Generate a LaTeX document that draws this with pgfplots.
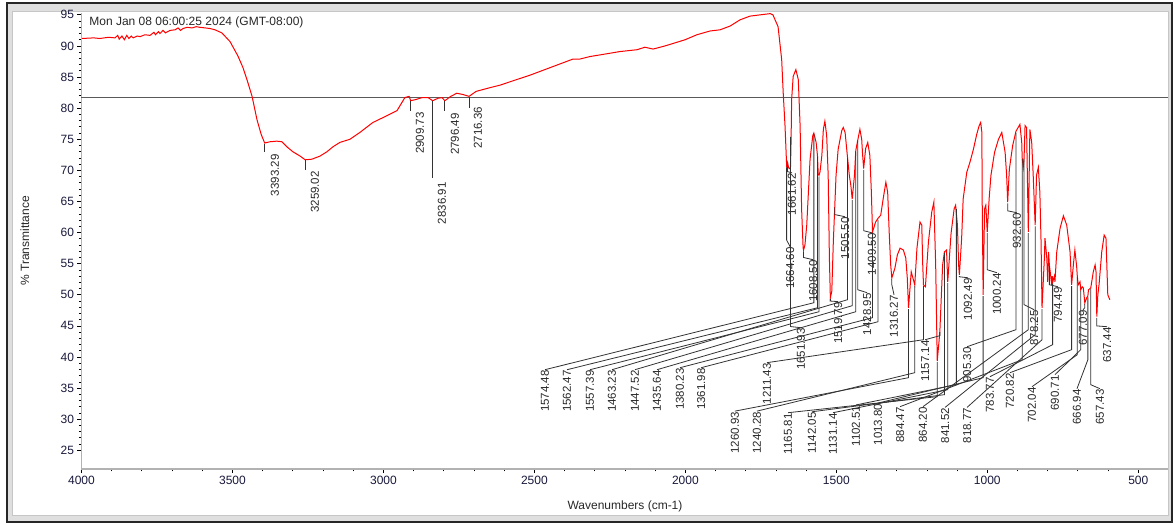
\documentclass[border=0pt]{standalone}
\usepackage{pgfplots}
\pgfplotsset{compat=1.18}
\usetikzlibrary{calc}
\usepackage{fontspec}
\setmainfont{Liberation Sans}

\definecolor{spec}{RGB}{255,0,0}
\definecolor{lbl}{RGB}{40,40,40}
\definecolor{tk}{RGB}{25,25,60}

\pgfdeclarelayer{bg}
\pgfsetlayers{bg,main}

\pgfplotsset{ldr/.style={black!80, line width=0.8pt, forget plot, mark=none}}
\tikzset{plab/.style={rotate=90, anchor=east, inner sep=0.5pt,
  font=\fontsize{11.5}{13}\selectfont, text=lbl}}

% peak label: wn, T at curve, T at bend, label wn, label top T, text
\newcommand{\pk}[6]{%
  \addplot[ldr] coordinates {(#1,#2) (#1,#3) (#4,#5)};
  \node[plab] at (axis cs:#4,#5) {#6};}
% short vertical leader only
\newcommand{\pkv}[6]{%
  \addplot[ldr] coordinates {(#1,#2) (#1,#3)};
  \node[plab] at (axis cs:#4,#5) {#6};}

\begin{document}
\begin{tikzpicture}
\begin{axis}[
  name=ax, at={(0pt,0pt)}, anchor=south west,
  width=1087pt, height=456pt, scale only axis,
  x dir=reverse, xmin=400, xmax=4000, ymin=22, ymax=95.3,
  axis x line=bottom, axis y line=left,
  axis line style={-, draw=gray!60, line width=1.2pt},
  xtick={500,1000,...,4000}, ytick={25,30,...,95},
  minor x tick num=4, minor y tick num=4,
  tick align=outside,
  major tick length=4pt, minor tick length=2.5pt,
  every tick/.style={black, line width=0.8pt},
  ticklabel style={font=\fontsize{12}{14}\selectfont, text=tk},
  /pgf/number format/assume math mode=true,
  /pgf/number format/1000 sep={},
  xlabel={Wavenumbers (cm-1)}, ylabel={\% Transmittance},
  every axis x label/.style={at={(axis description cs:0.5,-0.083)}, anchor=center,
    font=\fontsize{12}{14}\selectfont, text=lbl},
  every axis y label/.style={at={(axis description cs:-0.052,0.5)}, anchor=center,
    rotate=90, font=\fontsize{12}{14}\selectfont, text=lbl},
  clip=false,
]

% reference line
\addplot[gray!70!black, line width=0.8pt, forget plot] coordinates {(4000,81.7) (400,81.7)};

% spectrum
\addplot[spec, line width=1pt, mark=none] coordinates {
(3998,91.2) (3960,91.3) (3939,91.2) (3910,91.4) (3889,91.3) (3880,91.7) (3875,91.1)
(3866,91.6) (3858,91.0) (3850,91.7) (3843,91.2) (3835,91.6) (3829,91.3) (3815,91.6)
(3806,91.5) (3790,91.8) (3773,91.7) (3760,92.2) (3755,91.8) (3745,92.3) (3740,92.0)
(3730,92.5) (3722,92.1) (3707,92.5) (3690,92.6) (3680,92.9) (3672,92.5) (3664,92.8)
(3650,93.0) (3634,92.9) (3620,93.1) (3608,93.0) (3590,92.9) (3574,92.8) (3558,92.6)
(3535,92.1) (3508,90.7) (3482,88.4) (3465,86.5) (3452,84.6) (3435,81.9) (3419,78.2)
(3405,75.8) (3393.3,74.4) (3376,74.6) (3353,74.7) (3336,74.6) (3320,73.8) (3300,73.0)
(3276,72.3) (3259,71.7) (3237,71.8) (3210,72.3) (3187,73.0) (3167,73.8) (3144,74.5)
(3111,75.0) (3078,76.1) (3035,77.7) (2988,78.8) (2955,79.6) (2929,81.7) (2915,81.9)
(2909.7,81.2) (2892,81.4) (2872,81.7) (2852,81.7) (2836.9,81.2) (2819,81.6) (2806,81.7)
(2796.5,81.2) (2777,81.9) (2757,82.4) (2737,82.2) (2716.4,81.9) (2693,82.7) (2670,83.0)
(2647,83.3) (2614,83.7) (2571,84.4) (2515,85.3) (2482,85.9) (2438,86.7) (2405,87.3)
(2372,87.9) (2349,87.9) (2316,88.3) (2266,88.7) (2217,89.1) (2160,89.4) (2134,89.8)
(2107,89.5) (2068,90.0) (2041,90.4) (2001,91.0) (1962,91.8) (1919,92.4) (1885,92.6)
(1852,93.2) (1819,94.2) (1786,94.8) (1753,95.0) (1719,95.2) (1710,95.0) (1693,93.1)
(1681,87.8) (1676,82.5) (1670,77.2) (1664.6,70.8) (1661.6,71.3) (1658,70.4) (1652,70.2)
(1650,74.5) (1648,81.4) (1643,85.1) (1634,86.2) (1626,84.6) (1620,77.2) (1615,63.8)
(1610,57.5) (1608.5,57.2) (1604,58.0) (1598,61.2) (1587,71.8) (1578,75.6) (1574.5,76.0)
(1567,74.5) (1562.5,72.4) (1560,69.4) (1557.4,69.2) (1554,69.8) (1548,72.4) (1543,76.6)
(1538,77.9) (1532,75.6) (1527,69.2) (1523,55.9) (1519.8,49.5) (1515,50.6) (1510,58.5)
(1501,69.2) (1494,73.4) (1482,76.4) (1477,76.9) (1471,76.1) (1463.2,72.2) (1457,69.2)
(1452,67.6) (1447.5,65.4) (1440,69.2) (1435.6,73.2) (1428.9,74.9) (1422,76.6) (1416,75.0)
(1413,72.5) (1409.5,70.3) (1403,73.5) (1396,74.5) (1389,72.4) (1384,66.5) (1380.2,60.1)
(1370,61.7) (1362,62.3) (1353,62.8) (1345,65.4) (1336,68.1) (1330,66.5) (1325,60.1)
(1320,54.8) (1316.3,52.7) (1306,54.3) (1298,56.4) (1289,57.5) (1278,57.2) (1270,55.9)
(1265,52.7) (1260.9,47.9) (1252,53.7) (1240.3,51.6) (1233,57.5) (1223,61.7) (1217,61.2)
(1214,55.0) (1211.4,51.6) (1205,51.3) (1195,58.5) (1184,63.3) (1177,64.9) (1171,54.8)
(1165.8,39.4) (1160,42.5) (1157.1,44.2) (1148,54.8) (1142,56.9) (1135,57.2) (1131.1,52.1)
(1120,59.9) (1110,63.8) (1105,64.4) (1099,61.2) (1095,54.8) (1092.5,53.2) (1085,59.1)
(1080,65.4) (1068,69.7) (1057,71.4) (1046,73.4) (1035,75.8) (1027,77.2) (1022,77.7)
(1018,76.1) (1017,65.4) (1013.8,50.0) (1009,63.8) (1005,64.4) (1000.2,60.1) (994,65.4)
(988,69.2) (976,72.9) (963,75.0) (952,76.1) (941,72.9) (936,69.2) (932.6,64.9)
(927,70.2) (916,74.0) (905,76.3) (892,77.4) (886,74.5) (884.5,72.0) (881,70.5)
(878.2,72.0) (875,77.2) (870,76.9) (864.2,60.1) (859,76.6) (853,74.5) (848,69.2)
(841.5,61.2) (837,69.2) (831,70.5) (826,66.5) (822,58.5) (818.8,47.9) (811,55.9)
(809,59.1) (803,55.9) (800,52.1) (797,56.9) (794.5,54.8) (790,53.0) (787,51.6)
(785,53.0) (783.8,52.0) (778,53.0) (776,52.1) (770,56.9) (759,60.7) (748,62.7)
(737,61.2) (726,56.9) (720.8,51.6) (715,54.8) (710,57.2) (704,54.5) (702,53.0)
(699,51.6) (693,52.1) (690.7,50.8) (686,51.3) (682,51.1) (677.1,48.7) (671,49.5)
(667,49.8) (665,50.8) (657.4,51.1) (649,53.7) (643,54.8) (640,53.7) (637.4,46.5)
(634,50.0) (630,51.6) (621,56.9) (613,59.6) (607,59.1) (601,50.0) (594,49.2)
};

% peak labels
\pkv{3393.29}{74.3}{73.0}{3359}{72.67}{3393.29}
\pkv{3259.02}{71.6}{70.1}{3227}{69.98}{3259.02}
\pkv{2909.73}{81.1}{79.5}{2879}{79.46}{2909.73}
\pkv{2836.91}{81.1}{68.8}{2806}{68.17}{2836.91}
\pkv{2796.49}{81.1}{79.5}{2763}{79.30}{2796.49}
\pkv{2716.36}{81.8}{80.0}{2687}{80.27}{2716.36}

\pk{1664.60}{70.5}{58.8}{1653}{57.73}{1664.60}
\pk{1661.62}{70.9}{69.8}{1647}{69.61}{1661.62}
\pk{1651.93}{75.4}{44.9}{1617}{44.71}{1651.93}
\pk{1608.50}{57.0}{56.0}{1577}{55.64}{1608.50}
\pk{1574.48}{75.8}{48.73}{2465}{37.96}{1574.48}
\pk{1562.47}{72.2}{47.92}{2392}{37.96}{1562.47}
\pk{1557.39}{69.0}{47.28}{2316}{37.96}{1557.39}
\pk{1519.79}{49.3}{49.0}{1494}{48.9}{1519.79}
\pk{1505.50}{64.0}{62.9}{1471}{62.55}{1505.50}
\pk{1463.23}{72.0}{49.21}{2243}{37.96}{1463.23}
\pk{1447.52}{65.2}{48.25}{2167}{37.96}{1447.52}
\pk{1435.64}{73.0}{47.28}{2094}{37.96}{1435.64}
\pk{1428.95}{74.7}{50.82}{1398}{50.33}{1428.95}
\pk{1409.50}{70.1}{60.3}{1382}{59.97}{1409.50}
\pk{1380.23}{59.9}{46.32}{2018}{38.28}{1380.23}
\pk{1361.98}{62.1}{45.67}{1948}{38.28}{1361.98}
\pk{1316.27}{52.5}{51.62}{1309}{50.01}{1316.27}
\pk{1260.93}{47.7}{36.68}{1836}{31.3}{1260.93}
\pk{1240.28}{51.4}{37.48}{1763}{31.3}{1240.28}
\pk{1211.43}{51.4}{42.78}{1730}{39.09}{1211.43}
\pk{1165.81}{39.2}{33.63}{1660}{31.05}{1165.81}
\pk{1157.14}{44.0}{43.43}{1206}{42.78}{1157.14}
\pk{1142.05}{56.7}{33.95}{1581}{31.2}{1142.05}
\pk{1131.14}{51.9}{34.75}{1511}{31.05}{1131.14}
\pk{1102.51}{63.8}{35.55}{1435}{32.3}{1102.51}
\pk{1092.49}{53.0}{52.9}{1064}{52.74}{1092.49}
\pk{1013.80}{49.8}{36.68}{1362}{32.6}{1013.80}
\pk{1000.24}{59.9}{54.03}{968}{53.55}{1000.24}
\pk{932.60}{64.7}{63.5}{902}{63.19}{932.60}
\pk{905.30}{76.0}{44.39}{1067}{41.66}{905.30}
\pk{884.47}{71.8}{39.57}{1289}{32.02}{884.47}
\pk{878.25}{71.8}{48.41}{845}{47.60}{878.25}
\pk{864.20}{59.9}{44.39}{1213}{32.02}{864.20}
\pk{841.52}{61.0}{43.59}{1140}{31.9}{841.52}
\pk{818.77}{47.7}{42.78}{1067}{31.9}{818.77}
\pk{794.49}{54.6}{51.62}{766}{51.30}{794.49}
\pk{783.77}{51.8}{41.98}{991}{36.84}{783.77}
\pk{720.82}{51.4}{41.18}{925}{37.48}{720.82}
\pk{702.04}{52.8}{40.37}{852}{35.23}{702.04}
\pk{690.71}{50.6}{41.18}{776}{37.16}{690.71}
\pk{677.09}{48.5}{47.92}{683}{47.6}{677.09}
\pk{666.94}{49.6}{39.57}{703}{34.91}{666.94}
\pk{657.43}{50.9}{35.55}{627}{34.91}{657.43}
\pk{637.44}{46.3}{45.0}{603}{44.87}{637.44}

\node[anchor=west, font=\fontsize{12}{14}\selectfont, text=lbl]
  at (axis description cs:0.004,0.979) {Mon Jan 08 06:00:25 2024 (GMT-08:00)};
\end{axis}

% window frame, placed relative to the axis box
\coordinate (O) at ($(ax.south west)+(-81.5pt,-56pt)$);
\begin{pgfonlayer}{bg}
\fill[gray!25] ($(O)+(7pt,3pt)$) rectangle ($(O)+(1172pt,522pt)$);
\fill[white] ($(O)+(13pt,10pt)$) rectangle ($(O)+(1168pt,513pt)$);
\draw[gray!45, line width=1pt] ($(O)+(13pt,10pt)$) rectangle ($(O)+(1168pt,513pt)$);
\draw[black!85, line width=2.5pt] ($(O)+(7pt,3pt)$) rectangle ($(O)+(1172pt,522pt)$);
\end{pgfonlayer}
\useasboundingbox (O) rectangle ($(O)+(1176pt,525pt)$);
\end{tikzpicture}
\end{document}
